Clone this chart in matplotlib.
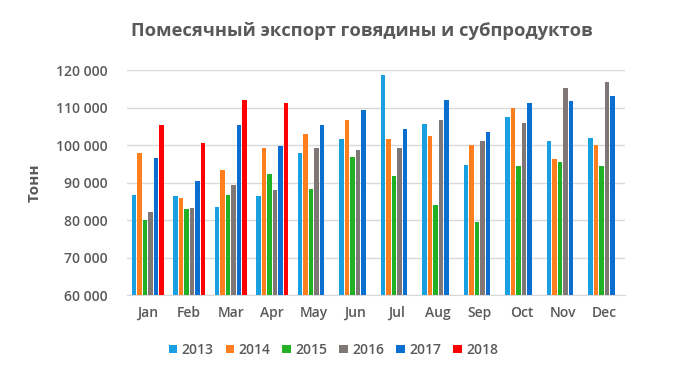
import matplotlib.pyplot as plt
import numpy as np

plt.rcParams['font.family'] = ['Open Sans', 'DejaVu Sans']

months = ['Jan', 'Feb', 'Mar', 'Apr', 'May', 'Jun', 'Jul', 'Aug', 'Sep', 'Oct', 'Nov', 'Dec']
years = ['2013', '2014', '2015', '2016', '2017', '2018']
nan = np.nan
v2013 = [86700, 86400, 83600, 86400, 97800, 101700, 118800, 105500, 94600, 107500, 101200, 102000]
v2014 = [97800, 85800, 93300, 99300, 102900, 106700, 101700, 102300, 99900, 109800, 96300, 100100]
v2015 = [80000, 82900, 86700, 92200, 88400, 96700, 91800, 84000, 79400, 94300, 95600, 94500]
v2016 = [82200, 83100, 89400, 88100, 99300, 98800, 99300, 106800, 101200, 105800, 115100, 116700]
v2017 = [96500, 90300, 105300, 99700, 105300, 109400, 104400, 112000, 103500, 111100, 111800, 113100]
v2018 = [105300, 100600, 112000, 111100, nan, nan, nan, nan, nan, nan, nan, nan]
colors = ['#1AA0E0', '#FF7F1E', '#22B024', '#7F7776', '#0A6FCF', '#FF0000']

series = [v2013, v2014, v2015, v2016, v2017, v2018]
gray = '#595959'

fig = plt.figure(figsize=(6.9, 3.69), dpi=100)
ax = fig.add_axes([0.184, 0.2005, 0.722, 0.6095])

x = np.arange(len(months))
slot = 0.133
w = 0.11
for i, s in enumerate(series):
    ax.bar(x + (i - 2.5) * slot, s, width=w, color=colors[i], label=years[i], zorder=3)

ax.set_ylim(60000, 120000)
ax.set_xlim(-0.5, 11.5)
ax.set_yticks(range(60000, 120001, 10000))
ax.set_yticklabels(['{:,}'.format(v).replace(',', ' ') for v in range(60000, 120001, 10000)])
ax.set_xticks(x)
ax.set_xticklabels(months)
ax.tick_params(length=0, colors=gray, labelsize=10)
ax.tick_params(axis='y', pad=14)
ax.tick_params(axis='x', pad=8)
for lbl in ax.get_xticklabels() + ax.get_yticklabels():
    lbl.set_fontweight('semibold')
ax.grid(axis='y', color='#D9D9D9', linewidth=1, zorder=0)
for sp in ['top', 'right', 'left']:
    ax.spines[sp].set_visible(False)
ax.spines['bottom'].set_color('#D9D9D9')
ax.set_ylabel('Тонн', color=gray, fontsize=11, fontweight='bold', labelpad=10)

fig.suptitle('Помесячный экспорт говядины и субпродуктов', x=0.525, y=0.94,
             color=gray, fontsize=13.2, fontweight='bold')
fig.legend(loc='center', bbox_to_anchor=(0.483, 0.052), ncol=6, frameon=False,
           handlelength=0.6, handleheight=0.6, handletextpad=0.3, columnspacing=0.9,
           labelcolor=gray, prop={'size': 10, 'weight': 'semibold'})

fig.savefig('out.png', dpi=100)
